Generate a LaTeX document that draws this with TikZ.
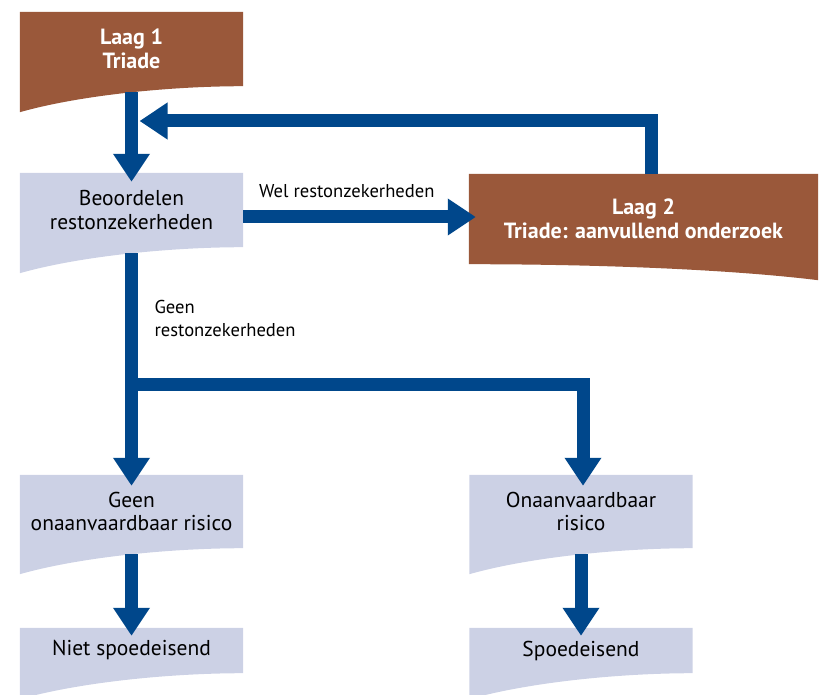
\documentclass[tikz,border=0pt]{standalone}
\usepackage{fontspec}
\setmainfont{PT Sans}
\usepackage{tikz}
\usetikzlibrary{arrows.meta, positioning, backgrounds}

\definecolor{laagbruin}{HTML}{9A583A}
\definecolor{boxgrijs}{HTML}{CCD1E5}
\definecolor{pijlblauw}{HTML}{00478B}

% sheet with the flap hanging down on the left
\newcommand{\flapdoc}[2]{%
  \fill[#2] (#1.north west) -- (#1.north east) -- (#1.south east)
    .. controls +(-73,0) and +(60,-17) .. ([yshift=-26pt]#1.south west) -- cycle;}

\begin{document}
\begin{tikzpicture}[
  x=1pt, y=-1pt,
  box/.style={rectangle, inner sep=0pt,
              minimum width=223pt, minimum height=74pt,
              align=center, font=\fontsize{21.5}{23.5}\selectfont},
  laag/.style={box, text=white, font=\fontsize{22}{23.5}\selectfont\bfseries},
  lbl/.style={text=black, font=\fontsize{18.6}{23}\selectfont, align=left},
  arr/.style={-{Triangle[length=28pt,width=35pt]}, line width=13pt, pijlblauw}
]
  \useasboundingbox (0,0) rectangle (819,695);

  \node[laag] (laag1) at (131.5,49) {Laag 1\\Triade};
  \node[box] (beoord) at (131.5,210) {Beoordelen\\restonzekerheden};
  \node[laag, minimum width=349pt, minimum height=90pt] (laag2) at (643.5,219)
    {Laag 2\\Triade: aanvullend onderzoek};
  \node[box, minimum height=73pt] (geen) at (131.5,511.5) {Geen\\onaanvaardbaar risico};
  \node[box, minimum height=73pt] (onaanv) at (581,511.5) {Onaanvaardbaar\\risico};
  \node[box, minimum height=45pt] (niet) at (131.5,650.5) {Niet spoedeisend};
  \node[box, minimum height=45pt] (spoed) at (581,650.5) {Spoedeisend};

  \begin{scope}[on background layer]
    \flapdoc{laag1}{laagbruin}
    \flapdoc{beoord}{boxgrijs}
    \flapdoc{geen}{boxgrijs}
    \flapdoc{onaanv}{boxgrijs}
    \flapdoc{niet}{boxgrijs}
    \flapdoc{spoed}{boxgrijs}
    \fill[laagbruin] (laag2.north west) -- (laag2.north east)
      -- ([yshift=-16pt]laag2.south east)
      .. controls +(-98,-12) and +(111,0) .. (laag2.south west) -- cycle;
  \end{scope}

  \coordinate (wel) at ([yshift=-7pt]beoord.east);
  \coordinate (terug) at (139.5,121);
  \coordinate (split) at (131.5,384);

  \draw[arr, shorten <=6pt] (laag1.south) -- ([yshift=-9pt]beoord.north);
  \draw[arr] (wel) -- ([xshift=7pt]wel -| laag2.west)
    node[lbl, pos=0, above right=9pt and 6pt] {Wel restonzekerheden};
  \draw[arr] ([xshift=8pt]laag2.north) |- (terug);
  \draw[arr, shorten <=6pt] (beoord.south) -- ([yshift=-11pt]geen.north);
  \node[lbl, anchor=west] (geenlbl) at (151,318) {Geen\\restonzekerheden};
  \draw[arr] (split) -| ([yshift=-11pt, xshift=2pt]onaanv.north);
  \draw[arr, shorten <=6pt] (geen.south) -- ([yshift=-8pt]niet.north);
  \draw[arr, shorten <=6pt] (onaanv.south) -- ([yshift=-8pt]spoed.north);
\end{tikzpicture}
\end{document}
